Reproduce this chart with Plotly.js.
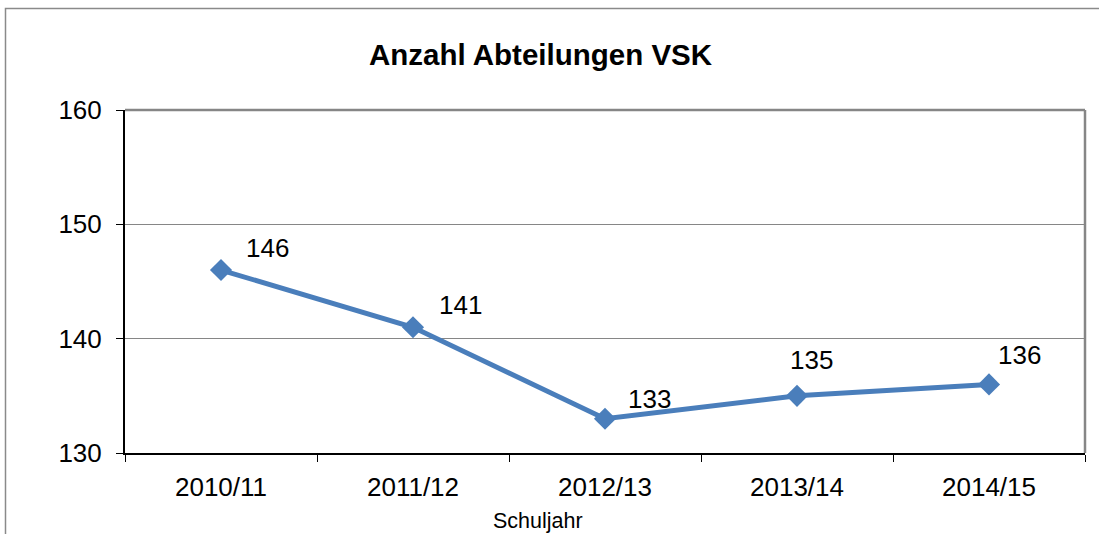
<!DOCTYPE html>
<html>
<head>
<meta charset="utf-8">
<script src="https://cdn.plot.ly/plotly-3.0.1.min.js"></script>
<style>
html,body{margin:0;padding:0;background:#fff;}
#chart{width:1099px;height:534px;}
</style>
</head>
<body>
<div id="chart"></div>
<script>
const categories = ["2010/11", "2011/12", "2012/13", "2013/14", "2014/15"];
const values = [146, 141, 133, 135, 136];
const yTicks = [130, 140, 150, 160];
const chartTitle = "Anzahl Abteilungen VSK";
const xTitle = "Schuljahr";

// label offsets in pixels (style, not data)
const labelShiftX = [46, 47, 44, 14, 30];
const labelShiftY = [22, 22, 20, 36, 29];

const FONT = "Liberation Sans, Arial, sans-serif";

const trace = {
  x: categories,
  y: values,
  type: "scatter",
  mode: "lines+markers",
  line: {color: "#4A7EBB", width: 5},
  marker: {symbol: "diamond", size: 17, color: "#4A7EBB"},
  hoverinfo: "x+y"
};

const annotations = categories.map((c, i) => ({
  x: c, y: values[i], xref: "x", yref: "y",
  text: String(values[i]), showarrow: false,
  xshift: labelShiftX[i], yshift: labelShiftY[i],
  font: {family: FONT, size: 26, color: "#000"}
}));
annotations.push({
  x: (541 - 125) / 960, y: (453 - 55) / 343, xref: "paper", yref: "paper",
  text: "<b>" + chartTitle + "</b>", showarrow: false,
  xanchor: "center", yanchor: "middle",
  font: {family: FONT, size: 29.5, color: "#000"}
});
annotations.push({
  x: (538 - 125) / 960, y: (453 - 521) / 343, xref: "paper", yref: "paper",
  text: xTitle, showarrow: false,
  xanchor: "center", yanchor: "middle",
  font: {family: FONT, size: 21.5, color: "#000"}
});

const layout = {
  width: 1099, height: 534,
  margin: {l: 125, r: 14, t: 110, b: 81, pad: 0},
  paper_bgcolor: "#fff", plot_bgcolor: "#fff",
  showlegend: false,
  xaxis: {
    type: "category",
    range: [-0.5, 4.5],
    tickson: "boundaries",
    ticks: "outside", ticklen: 7, tickwidth: 1, tickcolor: "#000",
    showline: true, linecolor: "#000", linewidth: 2,
    showgrid: false, zeroline: false,
    tickfont: {family: FONT, size: 26, color: "#000"},
    ticklabelstandoff: 10,
    fixedrange: true
  },
  yaxis: {
    range: [130, 160],
    tickvals: yTicks,
    ticks: "outside", ticklen: 7, tickwidth: 1, tickcolor: "#000",
    showline: true, linecolor: "#000", linewidth: 2,
    showgrid: true, gridcolor: "#868686", gridwidth: 1,
    zeroline: false,
    tickfont: {family: FONT, size: 26, color: "#000"},
    ticklabelstandoff: 9,
    fixedrange: true
  },
  annotations: annotations,
  shapes: [
    {type: "line", xref: "paper", yref: "paper", x0: 0, x1: 1, y0: 1, y1: 1,
     line: {color: "#868686", width: 2.5}},
    {type: "line", xref: "paper", yref: "paper", x0: 1, x1: 1, y0: 0, y1: 1,
     line: {color: "#868686", width: 2.5}},
    {type: "rect", xref: "paper", yref: "paper",
     x0: (5.5 - 125) / 960, x1: (1120 - 125) / 960,
     y0: (453 - 560) / 343, y1: (453 - 8.5) / 343,
     line: {color: "#8a8a8a", width: 1.5}, layer: "below"}
  ]
};

Plotly.newPlot("chart", [trace], layout, {displayModeBar: false, staticPlot: true});
</script>
</body>
</html>
